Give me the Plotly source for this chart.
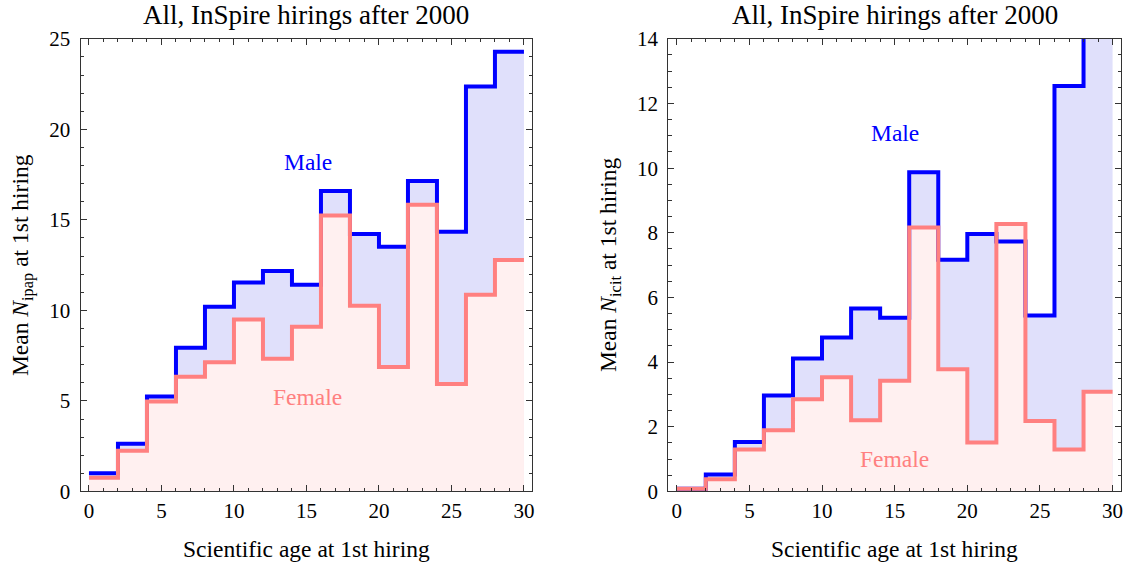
import plotly.graph_objects as go

# Bin edges (scientific age at 1st hiring)
edges = [0, 2, 4, 6, 8, 10, 12, 14, 16, 18, 20, 22, 24, 26, 28, 30]

# Left panel: mean N_ipap
male_pap = [1.0, 2.64, 5.25, 7.93, 10.2, 11.54, 12.18, 11.42, 16.59, 14.22, 13.52, 17.15, 14.34, 22.36, 24.28]
female_pap = [0.76, 2.24, 4.97, 6.33, 7.13, 9.5, 7.33, 9.09, 15.24, 10.26, 6.87, 15.83, 5.93, 10.86, 12.78]

# Right panel: mean N_icit
male_cit = [0.08, 0.52, 1.53, 2.97, 4.11, 4.76, 5.66, 5.37, 9.87, 7.17, 7.96, 7.73, 5.44, 12.54, 17.0]
female_cit = [0.08, 0.38, 1.30, 1.89, 2.85, 3.53, 2.20, 3.42, 8.16, 3.78, 1.51, 8.27, 2.18, 1.30, 3.08]

title_text = "All, InSpire hirings after 2000"
xlabel = "Scientific age at 1st hiring"
ylabels = ["Mean <i>N</i><sub>ipap</sub> at 1st hiring", "Mean <i>N</i><sub>icit</sub> at 1st hiring"]

BLUE = "rgb(0,0,255)"
PINK = "rgb(255,128,128)"
BLUE_FILL = "rgb(224,224,251)"
PINK_FILL = "rgb(255,240,240)"
FONT = "Liberation Serif, Times New Roman, serif"
AXC = "#333333"

fig = go.Figure()

def step_y(vals):
    return list(vals) + [vals[-1]]

panels = [
    ("x", "y", male_pap, female_pap),
    ("x2", "y2", male_cit, female_cit),
]
for xa, ya, m, f in panels:
    fig.add_trace(go.Scatter(x=edges, y=step_y(m), mode="lines", line=dict(shape="hv", width=0),
                             fill="tozeroy", fillcolor=BLUE_FILL, xaxis=xa, yaxis=ya,
                             showlegend=False, hoverinfo="skip"))
    fig.add_trace(go.Scatter(x=edges, y=step_y(f), mode="lines", line=dict(shape="hv", width=0),
                             fill="tozeroy", fillcolor=PINK_FILL, xaxis=xa, yaxis=ya,
                             showlegend=False, hoverinfo="skip"))
    fig.add_trace(go.Scatter(x=edges, y=step_y(m), mode="lines", line=dict(shape="hv", width=4, color=BLUE),
                             xaxis=xa, yaxis=ya, showlegend=False))
    fig.add_trace(go.Scatter(x=edges, y=step_y(f), mode="lines", line=dict(shape="hv", width=4, color=PINK),
                             xaxis=xa, yaxis=ya, showlegend=False))

W, H = 1135, 570
# frame positions in page pixels
TOP, BOT = 28.0, 500.5
L1, R1 = 80.7, 533.3
L2, R2 = 669.5, 1123.0
yd = [(H - BOT) / H, (H - TOP) / H]
xd1 = [L1 / W, R1 / W]
xd2 = [L2 / W, R2 / W]

common_x = dict(range=[-0.58, 30.58], tickvals=[0, 5, 10, 15, 20, 25, 30], ticks="inside", ticklen=6,
                tickcolor=AXC, showline=True, linecolor=AXC, linewidth=1, mirror="allticks",
                showgrid=False, zeroline=False, tickfont=dict(family=FONT, size=21, color="black"),
                ticklabelstandoff=0,
                minor=dict(dtick=1, tick0=0, ticks="inside", ticklen=3.5, tickcolor=AXC, showgrid=False))
common_y = dict(ticks="inside", ticklen=6, tickcolor=AXC, showline=True, linecolor=AXC, linewidth=1,
                mirror="allticks", showgrid=False, zeroline=False, ticklabelstandoff=5,
                tickfont=dict(family=FONT, size=21, color="black"))

fig.update_layout(
    width=W, height=H, margin=dict(l=0, r=0, t=0, b=0),
    plot_bgcolor="white", paper_bgcolor="white",
    xaxis=dict(domain=xd1, anchor="y", **common_x),
    yaxis=dict(domain=yd, anchor="x", range=[0, 25], dtick=5,
               minor=dict(dtick=1, ticks="inside", ticklen=3.5, tickcolor=AXC, showgrid=False), **common_y),
    xaxis2=dict(domain=xd2, anchor="y2", **common_x),
    yaxis2=dict(domain=yd, anchor="x2", range=[0, 14], dtick=2,
                minor=dict(dtick=0.5, ticks="inside", ticklen=3.5, tickcolor=AXC, showgrid=False), **common_y),
)

ann = []
for i in range(2):
    xd = xd1 if i == 0 else xd2
    cx = (xd[0] + xd[1]) / 2
    ann.append(dict(text=title_text, x=cx, y=1 - 3.5 / H, xref="paper", yref="paper", showarrow=False,
                    xanchor="center", yanchor="middle", borderpad=0,
                    font=dict(family=FONT, size=27, color="black")))
    ann.append(dict(text=xlabel, x=cx, y=1 - 561 / H, xref="paper", yref="paper", showarrow=False,
                    xanchor="center", yanchor="middle", font=dict(family=FONT, size=23.5, color="black")))
    ylx = 22 / W if i == 0 else 611 / W
    ann.append(dict(text=ylabels[i], x=ylx, y=(yd[0] + yd[1]) / 2, xref="paper", yref="paper",
                    showarrow=False, textangle=-90, xanchor="center", yanchor="middle",
                    font=dict(family=FONT, size=23.5, color="black")))

ann.append(dict(text="Male", x=15.1, y=18.2, xref="x", yref="y", showarrow=False,
                font=dict(family=FONT, size=23.5, color=BLUE)))
ann.append(dict(text="Female", x=15.1, y=5.2, xref="x", yref="y", showarrow=False,
                font=dict(family=FONT, size=23.5, color=PINK)))
ann.append(dict(text="Male", x=15.0, y=11.08, xref="x2", yref="y2", showarrow=False,
                font=dict(family=FONT, size=23.5, color=BLUE)))
ann.append(dict(text="Female", x=15.0, y=1.0, xref="x2", yref="y2", showarrow=False,
                font=dict(family=FONT, size=23.5, color=PINK)))
fig.update_layout(annotations=ann)

fig.write_html("out.html", config={"displayModeBar": False},
               post_script="document.body.style.margin='0';")
